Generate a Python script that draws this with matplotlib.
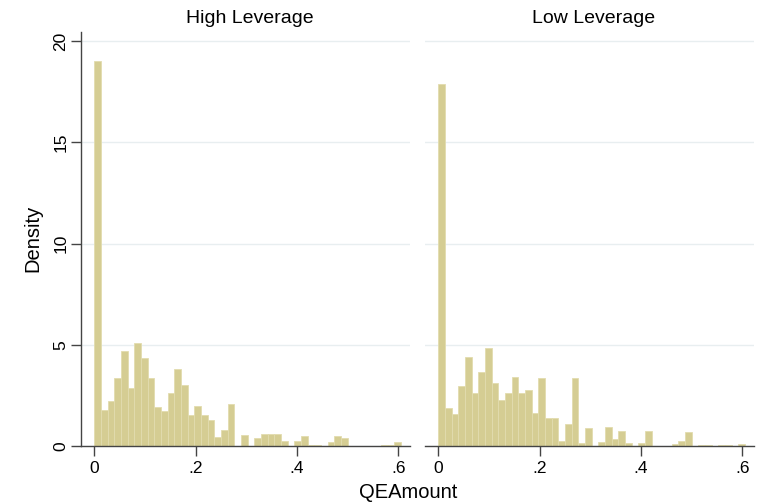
import numpy as np
import matplotlib
matplotlib.use("Agg")
import matplotlib.pyplot as plt

# histogram of QEAmount by leverage group (density, 46 bins)
bin_start = 0.0
bin_width = 0.01316

high_density = [19.0, 1.78, 2.24, 3.38, 4.69, 2.87, 5.11, 4.36, 3.35, 1.91,
                1.73, 2.62, 3.81, 3.00, 1.53, 1.96, 1.52, 1.27, 0.46, 0.79,
                2.06, 0.0, 0.56, 0.0, 0.39, 0.57, 0.57, 0.57, 0.27, 0.0,
                0.26, 0.49, 0.05, 0.05, 0.0, 0.21, 0.50, 0.41, 0.0, 0.0,
                0.0, 0.0, 0.0, 0.05, 0.05, 0.20]

low_density = [17.9, 1.90, 1.58, 2.94, 4.41, 2.61, 3.65, 4.82, 3.10, 2.28,
               2.62, 3.43, 2.62, 2.79, 1.62, 3.35, 1.40, 1.40, 0.25, 1.07,
               3.35, 0.16, 0.87, 0.0, 0.20, 0.96, 0.35, 0.73, 0.16, 0.0,
               0.14, 0.72, 0.0, 0.0, 0.0, 0.12, 0.27, 0.68, 0.0, 0.04,
               0.04, 0.0, 0.04, 0.04, 0.0, 0.12]

panel_titles = ["High Leverage", "Low Leverage"]
x_ticks = [0, 0.2, 0.4, 0.6]
x_tick_labels = ["0", ".2", ".4", ".6"]
y_ticks = [0, 5, 10, 15, 20]

bar_color = "#d5cd93"
bar_edge = "#e2dcae"
grid_color = "#e8eef0"
axis_color = "#444444"

plt.rcParams["font.family"] = ["Liberation Sans", "DejaVu Sans"]

fig = plt.figure(figsize=(7.74, 5.03), dpi=100)
fig.patch.set_facecolor("white")

panel_left = [0.1047, 0.5491]
panel_width = 0.4251
panel_bottom = 0.1133
panel_height = 0.8237

for i, (title, dens) in enumerate(zip(panel_titles, [high_density, low_density])):
    ax = fig.add_axes([panel_left[i], panel_bottom, panel_width, panel_height])
    lefts = bin_start + bin_width * np.arange(len(dens))
    ax.bar(lefts, dens, width=bin_width, align="edge", color=bar_color,
           edgecolor=bar_edge, linewidth=0.6, zorder=2)

    ax.set_xlim(-0.026, 0.623)
    ax.set_ylim(0, 20.46)
    ax.set_yticks(y_ticks)
    ax.set_xticks(x_ticks)
    ax.set_xticklabels(x_tick_labels, fontsize=12.5)
    ax.yaxis.grid(True, color=grid_color, linewidth=1.0, zorder=0)
    ax.set_axisbelow(True)

    for side in ["top", "right"]:
        ax.spines[side].set_visible(False)
    ax.spines["bottom"].set_color(axis_color)
    ax.spines["bottom"].set_linewidth(1.0)
    ax.tick_params(axis="x", length=7, width=1.0, color=axis_color, pad=4)

    if i == 0:
        ax.spines["left"].set_color(axis_color)
        ax.spines["left"].set_linewidth(1.0)
        ax.tick_params(axis="y", length=7, width=1.0, color=axis_color, pad=2)
        ax.set_yticklabels([str(t) for t in y_ticks], fontsize=12.5,
                           rotation=90, va="center")
        ax.set_ylabel("Density", fontsize=14.5, labelpad=8)
    else:
        ax.spines["left"].set_visible(False)
        ax.tick_params(axis="y", length=0, labelleft=False)

    fig.text(panel_left[i] + panel_width / 2 + 0.005, 0.964, title,
             fontsize=14, ha="center", va="center")

fig.text(408 / 774, 1 - 492 / 503, "QEAmount", fontsize=14.5,
         ha="center", va="center")

plt.savefig("out.png", dpi=100, facecolor=fig.get_facecolor())
plt.close(fig)
